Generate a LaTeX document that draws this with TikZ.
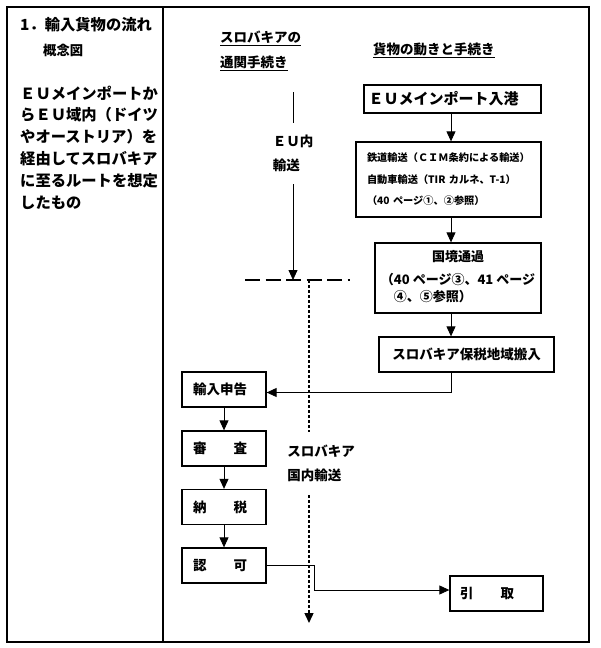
\documentclass[tikz,border=0pt]{standalone}
\usepackage{fontspec}
\setmainfont{Noto Sans CJK JP}
\usetikzlibrary{arrows.meta,positioning}

\begin{document}
\begin{tikzpicture}[x=1pt,y=-1pt,every node/.style={font=\bfseries}]
		\tikzstyle{frame}=[line width=1.4pt]
		\tikzstyle{proc}=[draw,line width=1.3pt,minimum height=35pt,inner ysep=0pt,font=\fontsize{13.5pt}{16pt}\selectfont\bfseries]
		\tikzstyle{stepbox}=[proc,align=left,text width=62pt,inner xsep=11pt]
		\tikzstyle{flow}=[line width=0.9pt,-{Triangle[length=10pt,width=9pt]}]
		\tikzstyle{boundary}=[line width=1.8pt,dash pattern=on 15pt off 5.5pt]
		\tikzstyle{route}=[line width=1.4pt,dash pattern=on 3pt off 2pt,-{Triangle[length=10pt,width=9pt]}]
		\tikzstyle{heading}=[align=left,inner sep=0pt,font=\fontsize{13.5pt}{25pt}\selectfont\bfseries]
		\tikzstyle{lead}=[align=left,inner sep=0pt,font=\fontsize{15.3pt}{21.8pt}\selectfont\bfseries]
		\tikzstyle{gap}=[fill=white,align=left,inner xsep=0pt,font=\fontsize{13.5pt}{24pt}\selectfont\bfseries]
		
		\useasboundingbox (0,0) rectangle (600,648);
		\draw[frame] (7,7) rectangle (589,642);
		\draw[frame] (163,7) -- (163,642);
		
		% left column
		\node[lead,anchor=west] (title) at (20,25) {1．輸入貨物の流れ};
		\node[heading,anchor=west,font=\fontsize{13.3pt}{16pt}\selectfont\bfseries] (subtitle) at (43,50) {概念図};
		\node[lead,anchor=west] (scope) at (20,147.5) {ＥＵメインポートか\\らＥＵ域内（ドイツ\\やオーストリア）を\\経由してスロバキア\\に至るルートを想定\\したもの};
		
		% headings
		\node[heading,anchor=west] (clearance) at (220,51) {\underline{スロバキアの}\\\underline{通関手続き}};
		\node[heading,anchor=west] (cargo) at (373,50) {\underline{貨物の動きと手続き}};
		
		% cargo flow
		\node[proc,align=left,text width=168pt,inner xsep=4.5pt,minimum height=28pt,font=\fontsize{15pt}{18pt}\selectfont\bfseries] (port) at (452.5,99) {ＥＵメインポート入港};
		\node[proc,align=left,text width=163pt,inner xsep=11pt,minimum height=75pt,font=\fontsize{10.2pt}{21.5pt}\selectfont\bfseries] (rail) at (448.5,179.5) {鉄道輸送（ＣＩＭ条約による輸送）\\自動車輸送（TIR カルネ、T-1）\\（40 ページ①、②参照）};
		\node[proc,minimum width=166pt,minimum height=70pt,font=\fontsize{13pt}{17pt}\selectfont\bfseries] (crossing) at (458,278) {\begin{tabular}{@{}l@{}}\multicolumn{1}{@{}c@{}}{国境通過}\\[6pt]（40 ページ③、41 ページ\\　④、⑤参照）\end{tabular}};
		\node[proc,minimum width=175pt] (bonded) at (466.5,354.5) {スロバキア保税地域搬入};
		
		% customs steps
		\node[stepbox] (declare) at (224,389.5) {輸入申告};
		\node[stepbox] (audit) at (224,448.5) {審　　査};
		\node[stepbox] (duty) at (224,507) {納　　税};
		\node[stepbox] (permit) at (224,565.5) {認　　可};
		\node[stepbox,text width=73pt,inner xsep=10pt] (pickup) at (496.5,593.5) {引　　取};
		
		\coordinate (spine) at (451,0);
		\draw[flow] (spine |- port.south) -- (spine |- rail.north);
		\draw[flow] (spine |- rail.south) -- (spine |- crossing.north);
		\draw[flow] (spine |- crossing.south) -- (spine |- bonded.north);
		\draw[flow] (spine |- bonded.south) |- ([yshift=-3pt]declare.east);
		\draw[flow] (declare) -- (audit);
		\draw[flow] (audit) -- (duty);
		\draw[flow] (duty) -- (permit);
		\coordinate (turn) at (314,590);
		\draw[flow] (permit.east) -| (turn) -- (turn -| pickup.west);
		
		% transport lines
		\coordinate (eutop) at (293,92);
		\coordinate (eujoin) at (293,280);
		\draw[flow,line width=0.8pt] (eutop) -- node[gap,pos=0.325,inner ysep=12pt] (eulabel) {ＥＵ内\\輸送} (eujoin);
		\coordinate (westend) at (245,280);
		\coordinate (eastend) at (350,280);
		\draw[boundary] (westend) -- (eastend);
		\coordinate (sktop) at (309,280);
		\coordinate (skend) at (309,623);
		\draw[route] (sktop) -- node[gap,pos=0.536,xshift=12pt,inner ysep=13pt] (sklabel) {スロバキア\\国内輸送} (skend);
\end{tikzpicture}
\end{document}
